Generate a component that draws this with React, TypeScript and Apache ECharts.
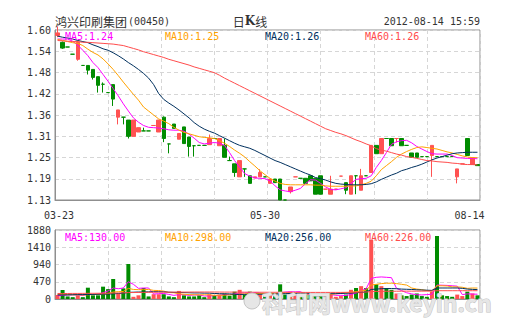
import React, { useEffect, useRef } from 'react';
import * as echarts from 'echarts';

// Trading days shown on the category axis
const dates = [
  '03-23', '03-26', '03-27', '03-28', '03-29', '03-30',
  '04-02', '04-03', '04-05', '04-10', '04-11', '04-12', '04-13', '04-16', '04-17', '04-18',
  '04-19', '04-20', '04-23', '04-24', '04-25', '04-26', '04-27', '04-30',
  '05-02', '05-03', '05-04', '05-07', '05-08', '05-09', '05-10', '05-11', '05-14', '05-15',
  '05-16', '05-17', '05-18', '05-23', '05-24', '05-25', '05-29', '05-30',
  '05-31', '06-01', '06-04', '06-05', '06-06', '06-07', '06-08', '06-11', '06-12', '06-13',
  '06-14', '06-15', '06-18', '06-19', '06-20', '06-21', '06-22', '06-25', '06-26', '06-27',
  '06-28', '06-29', '07-18', '07-19', '07-20', '07-23', '07-24', '07-25', '07-26', '07-27',
  '07-30', '07-31', '08-01', '08-02', '08-03', '08-06', '08-07', '08-08', '08-09', '08-10',
  '08-13', '08-14',
];
const dateLabelIdx = [0, 41, 83];

// Daily bars: [open, close, low, high]
const ohlc: number[][] = [
  [1.585, 1.592, 1.58, 1.61], [1.566, 1.55, 1.548, 1.568], [1.553, 1.553, 1.553, 1.553], [1.533, 1.533, 1.533, 1.533],
  [1.519, 1.566, 1.515, 1.57], [1.502, 1.502, 1.502, 1.502], [1.502, 1.489, 1.477, 1.502], [1.491, 1.469, 1.463, 1.491],
  [1.471, 1.447, 1.427, 1.471], [1.45, 1.45, 1.427, 1.455], [1.427, 1.427, 1.427, 1.427], [1.449, 1.409, 1.39, 1.449],
  [1.359, 1.379, 1.339, 1.379], [1.359, 1.359, 1.339, 1.359], [1.351, 1.306, 1.3, 1.351], [1.306, 1.351, 1.306, 1.351],
  [1.318, 1.33, 1.318, 1.33], [1.321, 1.321, 1.321, 1.33], [1.321, 1.321, 1.321, 1.321], [1.336, 1.336, 1.336, 1.336],
  [1.318, 1.351, 1.318, 1.351], [1.359, 1.3, 1.29, 1.361], [1.285, 1.285, 1.259, 1.285], [1.34, 1.328, 1.328, 1.34],
  [1.298, 1.314, 1.298, 1.314], [1.332, 1.286, 1.286, 1.332], [1.304, 1.278, 1.25, 1.304], [1.28, 1.28, 1.25, 1.28],
  [1.281, 1.281, 1.281, 1.281], [1.281, 1.281, 1.281, 1.281], [1.283, 1.3, 1.283, 1.311], [1.3, 1.3, 1.3, 1.3],
  [1.28, 1.3, 1.28, 1.3], [1.281, 1.248, 1.248, 1.3], [1.239, 1.239, 1.239, 1.25], [1.23, 1.206, 1.194, 1.23],
  [1.194, 1.239, 1.194, 1.239], [1.216, 1.216, 1.194, 1.216], [1.197, 1.176, 1.176, 1.197], [1.191, 1.194, 1.191, 1.194],
  [1.194, 1.206, 1.194, 1.215], [1.194, 1.194, 1.194, 1.194], [1.176, 1.188, 1.176, 1.188], [1.188, 1.178, 1.178, 1.188],
  [1.188, 1.13, 1.13, 1.188], [1.13, 1.13, 1.13, 1.13], [1.153, 1.166, 1.148, 1.166], [1.194, 1.194, 1.194, 1.194],
  [1.19, 1.19, 1.19, 1.19], [1.19, 1.176, 1.176, 1.19], [1.197, 1.183, 1.183, 1.197], [1.19, 1.146, 1.146, 1.19],
  [1.197, 1.146, 1.146, 1.197], [1.16, 1.16, 1.16, 1.16], [1.146, 1.16, 1.146, 1.197], [1.16, 1.16, 1.16, 1.16],
  [1.196, 1.196, 1.196, 1.196], [1.178, 1.157, 1.146, 1.178], [1.146, 1.197, 1.146, 1.197], [1.197, 1.197, 1.146, 1.197],
  [1.157, 1.197, 1.157, 1.216], [1.197, 1.197, 1.197, 1.197], [1.206, 1.281, 1.206, 1.281], [1.281, 1.258, 1.258, 1.281],
  [1.258, 1.3, 1.258, 1.3], [1.3, 1.3, 1.3, 1.3], [1.3, 1.28, 1.28, 1.3], [1.3, 1.3, 1.289, 1.3],
  [1.3, 1.28, 1.28, 1.3], [1.281, 1.281, 1.281, 1.281], [1.26, 1.248, 1.248, 1.26], [1.26, 1.248, 1.248, 1.26],
  [1.25, 1.25, 1.25, 1.25], [1.25, 1.25, 1.25, 1.25], [1.253, 1.281, 1.194, 1.281], [1.25, 1.25, 1.25, 1.25],
  [1.25, 1.25, 1.25, 1.25], [1.25, 1.25, 1.25, 1.25], [1.25, 1.25, 1.25, 1.25], [1.194, 1.216, 1.176, 1.216],
  [1.23, 1.23, 1.23, 1.23], [1.3, 1.253, 1.253, 1.3], [1.228, 1.247, 1.228, 1.247], [1.228, 1.225, 1.225, 1.228],
];
// Unchanged-price days that close up (drawn red)
const flatUp = [19, 47, 53, 55, 56, 67, 80];

const ma5 = [
  1.575, 1.575, 1.575, 1.569, 1.558, 1.544, 1.529, 1.51, 1.496, 1.477, 1.458, 1.438, 1.418, 1.396, 1.376, 1.357,
  1.345, 1.336, 1.331, 1.33, 1.329, 1.327, 1.324, 1.323, 1.323, 1.32, 1.312, 1.301, 1.289, 1.285, 1.287, 1.289,
  1.287, 1.281, 1.261, 1.239, 1.22, 1.203, 1.196, 1.191, 1.19, 1.189, 1.183, 1.169, 1.158, 1.155, 1.153, 1.157,
  1.162, 1.175, 1.186, 1.185, 1.176, 1.166, 1.159, 1.158, 1.161, 1.164, 1.175, 1.187, 1.189, 1.19, 1.197, 1.22,
  1.239, 1.261, 1.284, 1.291, 1.294, 1.295, 1.288, 1.278, 1.271, 1.264, 1.258, 1.257, 1.257, 1.257, 1.253, 1.247,
  1.246, 1.245, 1.245, 1.244,
];
const ma10 = [
  1.574, 1.571, 1.568, 1.565, 1.563, 1.557, 1.547, 1.538, 1.531, 1.52, 1.506, 1.491, 1.474, 1.456, 1.439, 1.422,
  1.406, 1.387, 1.376, 1.365, 1.354, 1.348, 1.341, 1.331, 1.323, 1.317, 1.313, 1.309, 1.305, 1.303, 1.302, 1.3,
  1.294, 1.287, 1.278, 1.268, 1.259, 1.249, 1.236, 1.224, 1.211, 1.2, 1.19, 1.182, 1.176, 1.173, 1.172, 1.172,
  1.172, 1.172, 1.172, 1.171, 1.171, 1.169, 1.168, 1.168, 1.168, 1.168, 1.169, 1.169, 1.172, 1.176, 1.182, 1.197,
  1.214, 1.225, 1.236, 1.248, 1.257, 1.264, 1.27, 1.275, 1.277, 1.275, 1.273, 1.271, 1.267, 1.263, 1.26, 1.256,
  1.252, 1.249, 1.247, 1.247,
];
const ma20 = [
  1.583, 1.58, 1.578, 1.575, 1.571, 1.568, 1.565, 1.559, 1.554, 1.548, 1.544, 1.537, 1.529, 1.52, 1.51, 1.501,
  1.491, 1.48, 1.467, 1.449, 1.424, 1.408, 1.398, 1.389, 1.379, 1.368, 1.357, 1.344, 1.334, 1.326, 1.32, 1.315,
  1.308, 1.301, 1.294, 1.287, 1.281, 1.277, 1.273, 1.267, 1.26, 1.253, 1.246, 1.239, 1.234, 1.228, 1.222, 1.216,
  1.21, 1.204, 1.199, 1.192, 1.189, 1.185, 1.18, 1.176, 1.174, 1.173, 1.172, 1.172, 1.172, 1.173, 1.175, 1.18,
  1.187, 1.193, 1.199, 1.204, 1.211, 1.215, 1.22, 1.224, 1.229, 1.235, 1.241, 1.246, 1.25, 1.254, 1.258, 1.26,
  1.261, 1.262, 1.262, 1.262,
];
const ma60 = [
  1.571, 1.57, 1.569, 1.568, 1.568, 1.566, 1.566, 1.565, 1.564, 1.563, 1.562, 1.561, 1.559, 1.557, 1.553, 1.549,
  1.545, 1.54, 1.536, 1.532, 1.528, 1.524, 1.519, 1.515, 1.511, 1.507, 1.503, 1.498, 1.494, 1.49, 1.486, 1.482,
  1.475, 1.467, 1.46, 1.453, 1.446, 1.439, 1.432, 1.425, 1.418, 1.411, 1.404, 1.397, 1.39, 1.383, 1.376, 1.369,
  1.362, 1.355, 1.348, 1.341, 1.334, 1.327, 1.322, 1.317, 1.313, 1.308, 1.302, 1.296, 1.291, 1.285, 1.28, 1.272,
  1.268, 1.265, 1.261, 1.257, 1.254, 1.25, 1.248, 1.245, 1.242, 1.239, 1.238, 1.236, 1.235, 1.234, 1.232, 1.231,
  1.229, 1.228, 1.228, 1.227,
];

// Turnover (thousand shares)
const volume = [
  110, 245, 70, 50, 100, 50, 308, 100, 100, 336, 270, 545, 150, 290, 954, 60,
  100, 300, 70, 130, 130, 130, 70, 50, 220, 100, 70, 70, 100, 50, 130, 100,
  120, 150, 90, 200, 250, 120, 200, 100, 130, 80, 100, 150, 400, 120, 200, 100,
  80, 120, 150, 100, 150, 80, 120, 60, 80, 120, 250, 300, 350, 300, 1607, 400,
  350, 300, 250, 150, 100, 80, 120, 150, 80, 60, 200, 1716, 100, 80, 60, 120,
  80, 200, 150, 100,
];
const vma5 = [
  90, 100, 110, 115, 115, 95, 130, 120, 130, 170, 220, 300, 280, 300, 470, 400,
  290, 300, 300, 135, 145, 150, 125, 100, 120, 115, 100, 110, 110, 80, 85, 90,
  100, 120, 120, 140, 160, 165, 170, 175, 160, 130, 120, 120, 170, 190, 195, 195,
  200, 125, 130, 120, 120, 120, 120, 100, 100, 95, 125, 160, 220, 280, 561, 591,
  601, 591, 581, 290, 230, 170, 140, 115, 110, 120, 130, 380, 375, 370, 360, 350,
  120, 140, 135, 130,
];
const vma10 = [
  120, 125, 120, 115, 115, 110, 115, 120, 125, 130, 145, 190, 200, 205, 290, 260,
  255, 255, 260, 235, 230, 215, 175, 170, 140, 130, 120, 115, 115, 115, 110, 100,
  100, 105, 115, 125, 135, 140, 150, 150, 150, 145, 145, 150, 165, 165, 165, 165,
  165, 135, 140, 135, 135, 130, 125, 140, 160, 170, 180, 200, 220, 240, 380, 400,
  420, 430, 430, 420, 400, 380, 300, 270, 255, 230, 225, 360, 360, 355, 330, 330,
  320, 290, 300, 298,
];
const vma20 = [
  110, 110, 112, 115, 118, 120, 122, 125, 130, 132, 135, 140, 150, 155, 180, 185,
  190, 190, 195, 200, 200, 195, 185, 180, 180, 175, 170, 165, 165, 160, 160, 150,
  145, 140, 140, 125, 125, 125, 130, 130, 130, 130, 130, 135, 140, 145, 150, 150,
  155, 160, 155, 150, 148, 145, 145, 145, 150, 155, 160, 170, 180, 190, 260, 270,
  280, 285, 285, 280, 270, 265, 260, 250, 245, 240, 235, 300, 300, 300, 300, 300,
  290, 270, 262, 256,
];
const vma60 = [
  150, 150, 150, 152, 152, 153, 155, 155, 156, 158, 160, 163, 165, 168, 175, 176,
  178, 180, 182, 184, 185, 186, 186, 187, 188, 188, 189, 190, 190, 190, 190, 190,
  189, 188, 188, 188, 187, 186, 185, 185, 184, 184, 183, 183, 183, 182, 182, 182,
  181, 180, 180, 180, 180, 180, 180, 180, 180, 182, 184, 186, 188, 190, 205, 206,
  208, 210, 211, 212, 213, 214, 214, 214, 214, 215, 215, 225, 226, 226, 226, 226,
  226, 226, 226, 226,
];

const priceTicks = ['1.13', '1.19', '1.25', '1.31', '1.36', '1.42', '1.48', '1.54', '1.60'];
const volTicks = [0, 470, 940, 1410, 1880];

const RED = '#ff5252';
const GREEN = '#008c00';
const C_MA5 = '#ff00ff';
const C_MA10 = '#ffa200';
const C_MA20 = '#00305e';
const C_MA60 = '#ff4c4c';
const MONO = '"DejaVu Sans Mono", monospace';
const CJK = '"Noto Sans CJK SC", sans-serif';
const GRID_LINE = { color: '#d6d6d6', type: [4, 3] as number[], width: 1 };

function isUp(i: number) {
  const [o, c] = ohlc[i];
  if (c === o) return flatUp.includes(i);
  return c > o;
}

function buildOption(): echarts.EChartsOption {
  const candleData = ohlc.map((d, i) => {
    const col = isUp(i) ? RED : GREEN;
    return {
      value: d,
      itemStyle: { color: col, color0: col, borderColor: col, borderColor0: col },
    };
  });
  const volData = volume.map((v, i) => ({ value: v, itemStyle: { color: isUp(i) ? RED : GREEN } }));

  const maLine = (name: string, data: number[], color: string, xi: number, yi: number) => ({
    name,
    type: 'line' as const,
    xAxisIndex: xi,
    yAxisIndex: yi,
    data,
    symbol: 'none',
    smooth: false,
    lineStyle: { color, width: 1 },
    z: 3,
  });

  const legendText = (text: string, x: number, y: number, color: string) => ({
    type: 'text' as const,
    x,
    y,
    z: 100,
    style: { text, fill: color, font: `10px ${MONO}`, textVerticalAlign: 'middle' as const },
  });

  return {
    animation: false,
    backgroundColor: '#ffffff',
    grid: [
      { left: 55, top: 30, width: 425, height: 170, show: true, borderColor: '#8f8f8f', borderWidth: 1 },
      { left: 55, top: 230, width: 425, height: 69, show: true, borderColor: '#8f8f8f', borderWidth: 1 },
    ],
    xAxis: [
      {
        type: 'category', gridIndex: 0, data: dates, boundaryGap: true,
        axisLine: { show: true, lineStyle: { color: '#8f8f8f', width: 1 } },
        axisTick: { show: false },
        splitLine: { show: false },
        axisLabel: {
          show: true,
          interval: (idx: number) => dateLabelIdx.includes(idx),
          margin: 10,
          color: '#333',
          fontFamily: MONO,
          fontSize: 10,
          formatter: (val: string, idx: number) =>
            idx === 0 ? `{a|${val}}` : idx === ohlc.length - 1 ? `{c|${val}}` : `{b|${val}}`,
          rich: {
            a: { padding: [0, 0, 0, 3], fontFamily: MONO, fontSize: 10, color: '#333' },
            b: { fontFamily: MONO, fontSize: 10, color: '#333' },
            c: { padding: [0, 16, 0, 0], fontFamily: MONO, fontSize: 10, color: '#333' },
          },
        },
      },
      // Even vertical division lines of the price panel
      {
        type: 'value', gridIndex: 0, min: 0, max: 8, interval: 1, show: true,
        axisLine: { show: false }, axisTick: { show: false }, axisLabel: { show: false },
        splitLine: { show: true, lineStyle: GRID_LINE },
      },
      {
        type: 'category', gridIndex: 1, data: dates, boundaryGap: true,
        axisLine: { show: true, lineStyle: { color: '#8f8f8f' } },
        axisTick: { show: false }, axisLabel: { show: false }, splitLine: { show: false },
      },
      {
        type: 'value', gridIndex: 1, min: 0, max: 8, interval: 1, show: true,
        axisLine: { show: false }, axisTick: { show: false }, axisLabel: { show: false },
        splitLine: { show: true, lineStyle: GRID_LINE },
      },
    ],
    yAxis: [
      {
        type: 'value', gridIndex: 0, min: 1.13, max: 1.6, show: false, scale: true,
        splitLine: { show: false },
      },
      {
        type: 'category', gridIndex: 0, data: priceTicks, boundaryGap: false, position: 'left',
        axisLine: { show: true, lineStyle: { color: '#8f8f8f' } },
        axisTick: { show: false },
        axisLabel: { color: '#333', fontFamily: MONO, fontSize: 10, margin: 4 },
        splitLine: { show: true, lineStyle: GRID_LINE },
      },
      {
        type: 'value', gridIndex: 1, min: 0, max: 1880, interval: 470,
        axisLine: { show: true, lineStyle: { color: '#8f8f8f' } },
        axisTick: { show: false },
        axisLabel: {
          color: '#333', fontFamily: MONO, fontSize: 10, margin: 4,
          formatter: (v: number) => (volTicks.includes(v) ? String(v) : ''),
        },
        splitLine: { show: true, lineStyle: GRID_LINE },
      },
    ],
    series: [
      {
        name: 'K', type: 'candlestick', xAxisIndex: 0, yAxisIndex: 0, data: candleData,
        barWidth: 4, clip: true, z: 2,
      },
      maLine('MA5', ma5, C_MA5, 0, 0),
      maLine('MA10', ma10, C_MA10, 0, 0),
      maLine('MA20', ma20, C_MA20, 0, 0),
      maLine('MA60', ma60, C_MA60, 0, 0),
      {
        name: 'VOL', type: 'bar', xAxisIndex: 2, yAxisIndex: 2, data: volData, barWidth: 4, z: 2,
      },
      maLine('VMA5', vma5, C_MA5, 2, 2),
      maLine('VMA10', vma10, C_MA10, 2, 2),
      maLine('VMA20', vma20, C_MA20, 2, 2),
      maLine('VMA60', vma60, C_MA60, 2, 2),
    ],
    graphic: [
      {
        type: 'text', x: 55, y: 21,
        style: { text: '鸿兴印刷集团', fill: '#333', font: `12px ${CJK}`, textVerticalAlign: 'middle' },
      },
      {
        type: 'text', x: 128, y: 21,
        style: { text: '(00450)', fill: '#333', font: `10px ${MONO}`, textVerticalAlign: 'middle' },
      },
      {
        type: 'text', x: 250, y: 21,
        style: {
          text: '{a|日}{b|K}{a|线}',
          textAlign: 'center', textVerticalAlign: 'middle',
          rich: {
            a: { fontFamily: CJK, fontSize: 12, fill: '#333' },
            b: { fontFamily: '"DejaVu Serif", serif', fontSize: 12, fontWeight: 'bold', fill: '#333' },
          },
        } as any,
      },
      {
        type: 'text', x: 480, y: 21,
        style: { text: '2012-08-14 15:59', fill: '#333', font: `10px ${MONO}`, textAlign: 'right', textVerticalAlign: 'middle' },
      },
      legendText('MA5:1.24', 65, 36, C_MA5),
      legendText('MA10:1.25', 165, 36, C_MA10),
      legendText('MA20:1.26', 265, 36, C_MA20),
      legendText('MA60:1.26', 365, 36, C_MA60),
      legendText('MA5:130.00', 65, 237, C_MA5),
      legendText('MA10:298.00', 165, 237, C_MA10),
      legendText('MA20:256.00', 265, 237, C_MA20),
      legendText('MA60:226.00', 365, 237, C_MA60),
      // Site watermark
      {
        type: 'circle', shape: { cx: 252, cy: 301, r: 8 }, z: 200,
        style: { fill: '#e6e6e6', stroke: '#c4c4c4', lineWidth: 1 },
      },
      {
        type: 'text', x: 262, y: 302, z: 200,
        style: {
          text: '科印网www.keyin.cn',
          font: `bold 23px ${CJK}`,
          fill: '#e6e6e6',
          stroke: '#c2c2c2',
          lineWidth: 1,
          textVerticalAlign: 'middle',
        },
      },
    ],
  };
}

export default function App() {
  const ref = useRef<HTMLDivElement>(null);
  useEffect(() => {
    document.body.style.margin = '0';
    const chart = echarts.init(ref.current!, null, { renderer: 'svg' });
    chart.setOption(buildOption());
    return () => chart.dispose();
  }, []);
  return <div ref={ref} style={{ width: 505, height: 330, position: 'absolute', left: 0, top: 0 }} />;
}
